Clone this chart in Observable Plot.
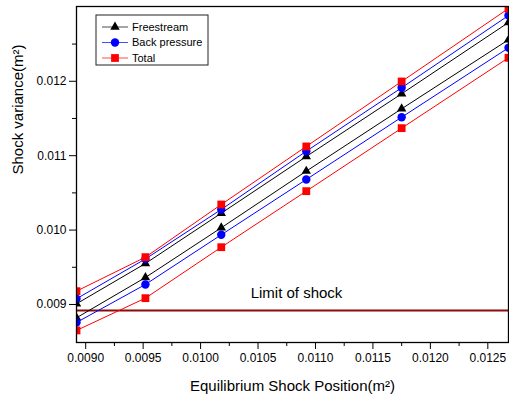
<!DOCTYPE html>
<html><head><meta charset="utf-8">
<script src="https://cdn.jsdelivr.net/npm/d3@7"></script>
<script src="https://cdn.jsdelivr.net/npm/@observablehq/plot@0.6"></script>
<style>
body{margin:0;background:#fff;}
#chart{position:relative;width:509px;height:400px;}
</style>
</head><body><div id="chart"></div>
<script>
// ---- data ----
const xPositions = [0.00892, 0.00952, 0.01018, 0.01092, 0.01175, 0.01268];
const freestreamUpper = [0.009009, 0.009551, 0.010227, 0.010989, 0.011832, 0.012790];
const freestreamLower = [0.008821, 0.009363, 0.010031, 0.010792, 0.011630, 0.012558];
const backPressureUpper = [0.009077, 0.009612, 0.010277, 0.011060, 0.011913, 0.012884];
const backPressureLower = [0.008758, 0.009269, 0.009937, 0.010680, 0.011517, 0.012450];
const totalUpper = [0.009179, 0.009636, 0.010344, 0.011124, 0.011997, 0.012978];
const totalLower = [0.008651, 0.009085, 0.009770, 0.010523, 0.011370, 0.012316];
const limitOfShock = 0.00892;

const seriesNames = ["Freestream", "Back pressure", "Total"];
const seriesColors = ["#000000", "#0000ff", "#ff0000"];
const seriesSymbols = ["triangle", "circle", "square"];
const seriesRadius = [3.5, 4.2, 4.4];
const seriesValues = [
  [freestreamUpper, freestreamLower],
  [backPressureUpper, backPressureLower],
  [totalUpper, totalLower]
];

const xTicks = [0.0090, 0.0095, 0.0100, 0.0105, 0.0110, 0.0115, 0.0120, 0.0125];
const xMinorTicks = [0.00925, 0.00975, 0.01025, 0.01075, 0.01125, 0.01175, 0.01225];
const yTicks = [0.009, 0.010, 0.011, 0.012];
const yMinorTicks = [0.0095, 0.0105, 0.0115, 0.0125];

const xTitle = "Equilibrium Shock Position(m²)";
const yTitle = "Shock variance(m²)";
const limitLabel = "Limit of shock";

// ---- build rows ----
const rows = [];
seriesNames.forEach((name, si) => {
  seriesValues[si].forEach((arr, bi) => {
    arr.forEach((v, i) => rows.push({series: name, branch: bi, x: xPositions[i], y: v}));
  });
});

const seriesMarks = [];
seriesNames.forEach((name, si) => {
  const d = rows.filter(r => r.series === name);
  seriesMarks.push(Plot.line(d, {x: "x", y: "y", z: "branch", stroke: seriesColors[si], strokeWidth: 1, clip: true}));
  seriesMarks.push(Plot.dot(d, {x: "x", y: "y", symbol: () => seriesSymbols[si], fill: seriesColors[si], stroke: "none", r: seriesRadius[si], clip: true}));
});

const chart = Plot.plot({
  width: 509,
  height: 400,
  marginLeft: 76,
  marginRight: 1,
  marginTop: 6,
  marginBottom: 58,
  style: {fontFamily: "'Liberation Sans', Arial, sans-serif", fontSize: "12px", background: "#fff", color: "#000"},
  x: {domain: [xPositions[0], xPositions[xPositions.length - 1]], label: null},
  y: {domain: [0.008489, 0.013005], label: null},
  symbol: {type: "identity"},
  marks: [
    Plot.ruleY([limitOfShock], {stroke: "#8b0a0a", strokeWidth: 2}),
    ...seriesMarks,
    Plot.text([limitLabel], {y: () => limitOfShock, frameAnchor: "middle", text: d => d, lineAnchor: "bottom", dy: -12, dx: 4, fontSize: 15, fill: "#000"}),
    Plot.frame({stroke: "#000", strokeWidth: 1.3}),
    Plot.axisX({ticks: xTicks, tickFormat: d3.format(".4f"), tickSize: 7, tickPadding: 4, fontSize: 12, label: null}),
    Plot.axisX({ticks: xMinorTicks, tickFormat: () => "", tickSize: 4, label: null}),
    Plot.axisY({ticks: yTicks, tickFormat: d3.format(".3f"), tickSize: 7, tickPadding: 3, fontSize: 12, label: null}),
    Plot.axisY({ticks: yMinorTicks, tickFormat: () => "", tickSize: 4, label: null}),
    Plot.text([xTitle], {frameAnchor: "bottom", text: d => d, dy: 44, lineAnchor: "middle", fontSize: 15}),
    Plot.text([yTitle], {frameAnchor: "left", text: d => d, dx: -58, rotate: -90, lineAnchor: "middle", fontSize: 15})
  ]
});

document.getElementById("chart").appendChild(chart);

// ---- legend ----
const svg = d3.select(chart);
const lg = svg.append("g").attr("transform", "translate(96,15)");
lg.append("rect").attr("width", 112).attr("height", 50).attr("fill", "#fff").attr("stroke", "#222").attr("stroke-width", 1);
const d3Symbols = {triangle: d3.symbolTriangle, circle: d3.symbolCircle, square: d3.symbolSquare};
seriesNames.forEach((name, i) => {
  const cy = 12 + i * 15.5;
  const g = lg.append("g").attr("transform", `translate(0,${cy})`);
  g.append("line").attr("x1", 6).attr("x2", 32).attr("y1", 0).attr("y2", 0).attr("stroke", seriesColors[i]).attr("stroke-opacity", 0.7).attr("stroke-width", 1);
  g.append("path").attr("transform", "translate(19,0)").attr("d", d3.symbol(d3Symbols[seriesSymbols[i]], Math.PI * seriesRadius[i] ** 2)()).attr("fill", seriesColors[i]);
  g.append("text").attr("x", 36).attr("y", 0).attr("dy", "0.35em").attr("text-anchor", "start").attr("font-size", 11).attr("fill", "#000").text(name);
});
</script>
</body></html>
